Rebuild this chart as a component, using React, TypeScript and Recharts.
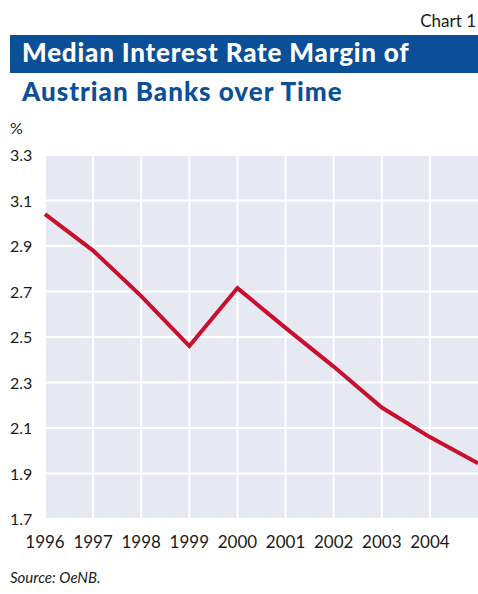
import { LineChart, Line, XAxis, YAxis, CartesianGrid } from 'recharts'

const years = [1996, 1997, 1998, 1999, 2000, 2001, 2002, 2003, 2004, 2005]
const margin = [3.04, 2.88, 2.68, 2.46, 2.715, 2.54, 2.37, 2.19, 2.06, 1.945]
const xTicks = [1996, 1997, 1998, 1999, 2000, 2001, 2002, 2003, 2004]
const yTicks = [1.7, 1.9, 2.1, 2.3, 2.5, 2.7, 2.9, 3.1, 3.3]

const data = years.map((y, i) => ({ year: y, value: margin[i] }))

const FONT = 'Lato, "Open Sans", sans-serif'

function YTick({ y, payload }: { y?: number; payload?: { value: number } }) {
  return (
    <text x={10} y={y} dy={6} textAnchor="start" fontSize={16} fill="#1a1a1a" fontFamily={FONT}>
      {payload?.value.toFixed(1)}
    </text>
  )
}

export default function App() {
  return (
    <div style={{ position: 'absolute', left: 0, top: 0, width: 478, height: 594, background: '#fff', fontFamily: FONT }}>
      <div style={{ position: 'absolute', right: 2, top: 10, fontSize: 17, color: '#1a1a1a' }}>Chart 1</div>
      <div
        style={{
          position: 'absolute',
          left: 10,
          top: 35,
          width: 468,
          height: 38,
          background: '#0a4f98',
        }}
      />
      <div
        style={{
          position: 'absolute',
          left: 22,
          top: 36,
          fontSize: 26,
          fontWeight: 900,
          letterSpacing: 0.8,
          color: '#fff',
          whiteSpace: 'nowrap',
        }}
      >
        Median Interest Rate Margin of
      </div>
      <div
        style={{
          position: 'absolute',
          left: 22,
          top: 75,
          fontSize: 26,
          fontWeight: 900,
          letterSpacing: 1,
          color: '#0a4f98',
          whiteSpace: 'nowrap',
        }}
      >
        Austrian Banks over Time
      </div>
      <div style={{ position: 'absolute', left: 10, top: 118, fontSize: 16, color: '#1a1a1a' }}>%</div>
      <div style={{ position: 'absolute', left: 10, top: 568, fontSize: 15, fontStyle: 'italic', color: '#1a1a1a' }}>
        Source: OeNB.
      </div>
      <LineChart
        width={478}
        height={594}
        data={data}
        margin={{ top: 155, right: 0, left: 0, bottom: 45 }}
        style={{ position: 'absolute', left: 0, top: 0 }}
      >
        <CartesianGrid fill="#e6e8f2" stroke="#ffffff" strokeWidth={2} horizontalValues={yTicks} verticalValues={xTicks} />
        <XAxis
          dataKey="year"
          type="number"
          domain={[1996, 2005]}
          ticks={xTicks}
          height={30}
          axisLine={false}
          tickLine={false}
          tick={{ fontSize: 17, fill: '#1a1a1a', fontFamily: FONT }}
          tickMargin={11}
          interval={0}
        />
        <YAxis
          type="number"
          domain={[1.7, 3.3]}
          ticks={yTicks}
          width={45}
          axisLine={false}
          tickLine={false}
          tick={<YTick />}
          interval={0}
        />
        <Line
          dataKey="value"
          stroke="#c8102e"
          strokeWidth={4}
          dot={false}
          type="linear"
          isAnimationActive={false}
        />
      </LineChart>
    </div>
  )
}
